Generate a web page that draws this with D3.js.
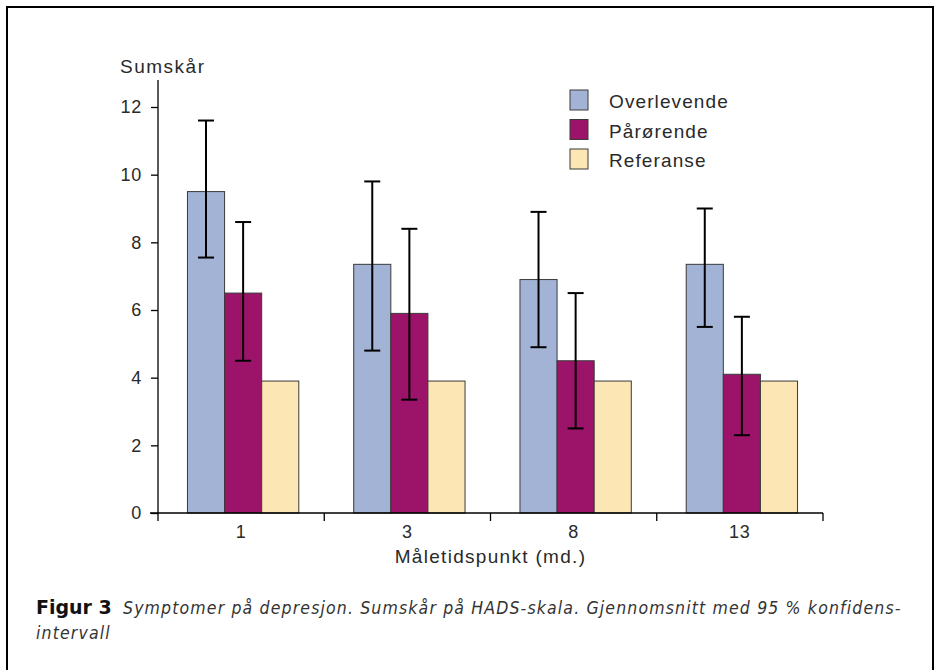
<!DOCTYPE html>
<html><head><meta charset="utf-8">
<script src="https://cdn.jsdelivr.net/npm/d3@7/dist/d3.min.js"></script>
<style>
body{margin:0;background:#fff;}
svg{display:block;}
</style></head>
<body>
<script>
const categories = ["1", "3", "8", "13"];
const seriesNames = ["Overlevende", "Pårørende", "Referanse"];
const overlevende = [9.5, 7.35, 6.9, 7.35];
const overlevendeLow = [7.55, 4.8, 4.9, 5.5];
const overlevendeHigh = [11.6, 9.8, 8.9, 9.0];
const parorende = [6.5, 5.9, 4.5, 4.1];
const parorendeLow = [4.5, 3.35, 2.5, 2.3];
const parorendeHigh = [8.6, 8.4, 6.5, 5.8];
const referanse = [3.9, 3.9, 3.9, 3.9];
const yTicks = [0, 2, 4, 6, 8, 10, 12];
const colors = ["#a3b3d5", "#9c1469", "#fbe6b4"];

const W = 939, H = 670;
const svg = d3.select("body").append("svg").attr("width", W).attr("height", H);
svg.append("rect").attr("x", 7).attr("y", 7).attr("width", 926).attr("height", 680)
  .attr("fill", "none").attr("stroke", "#000").attr("stroke-width", 2);

const x0 = 158, x1 = 823, yBase = 513;
const x = d3.scaleBand().domain(categories).range([x0, x1]).paddingInner(0).paddingOuter(0);
const xs = d3.scaleBand().domain(seriesNames).range([2, x.bandwidth() + 2]).paddingOuter(0.74).paddingInner(0);
const y = d3.scaleLinear().domain([0, 12]).range([yBase, 107]);

const font = "'Liberation Sans', Arial, sans-serif";
const textCol = "#2a2a2a";

const series = [
  {name: seriesNames[0], vals: overlevende, lo: overlevendeLow, hi: overlevendeHigh},
  {name: seriesNames[1], vals: parorende, lo: parorendeLow, hi: parorendeHigh},
  {name: seriesNames[2], vals: referanse, lo: null, hi: null}
];
series.forEach((s, si) => {
  const g = svg.append("g");
  categories.forEach((c, ci) => {
    const bx = x(c) + xs(s.name);
    g.append("rect").attr("x", bx).attr("y", y(s.vals[ci]))
      .attr("width", xs.bandwidth()).attr("height", y(0) - y(s.vals[ci]))
      .attr("fill", colors[si]).attr("stroke", "#3a3a3a").attr("stroke-width", 1);
  });
});
series.forEach((s) => {
  if (!s.lo) return;
  categories.forEach((c, ci) => {
    const cx = x(c) + xs(s.name) + xs.bandwidth() / 2;
    svg.append("line").attr("x1", cx).attr("x2", cx).attr("y1", y(s.lo[ci])).attr("y2", y(s.hi[ci]))
      .attr("stroke", "#000").attr("stroke-width", 2);
    [s.lo[ci], s.hi[ci]].forEach(v => {
      svg.append("line").attr("x1", cx - 8).attr("x2", cx + 8).attr("y1", y(v)).attr("y2", y(v))
        .attr("stroke", "#000").attr("stroke-width", 2);
    });
  });
});

// y axis
const yAxis = d3.axisLeft(y).tickValues(yTicks).tickSize(7).tickPadding(9).tickFormat(d3.format("d"));
const gy = svg.append("g").attr("transform", `translate(${x0},0)`).call(yAxis);
gy.select(".domain").remove();
gy.append("line").attr("x1", 0).attr("x2", 0).attr("y1", 80).attr("y2", yBase).attr("stroke", "#000").attr("stroke-width", 1.3);
gy.selectAll(".tick line").attr("stroke", "#000").attr("stroke-width", 1.3);
gy.selectAll(".tick text").attr("font-family", font).attr("font-size", 18).attr("letter-spacing", 0.8).attr("fill", textCol);

// x axis
const xAxis = d3.axisBottom(x).tickSize(0).tickPadding(12);
const gx = svg.append("g").attr("transform", `translate(0,${yBase})`).call(xAxis);
gx.select(".domain").remove();
gx.append("line").attr("x1", x0 - 8).attr("x2", x1).attr("y1", 0).attr("y2", 0).attr("stroke", "#000").attr("stroke-width", 1.3);
gx.selectAll(".tick text").attr("font-family", font).attr("font-size", 18).attr("letter-spacing", 0.8).attr("fill", textCol);
const bounds = categories.map(c => x(c)).concat([x1]);
gx.selectAll(".bnd").data(bounds).enter().append("line")
  .attr("x1", d => d).attr("x2", d => d).attr("y1", 0).attr("y2", 8)
  .attr("stroke", "#000").attr("stroke-width", 1.3);

// axis titles
svg.append("text").attr("x", 120).attr("y", 73).text("Sumskår")
  .attr("font-family", font).attr("font-size", 19).attr("letter-spacing", 1.5).attr("fill", textCol);
svg.append("text").attr("x", (x0 + x1) / 2).attr("y", 563).attr("text-anchor", "middle").text("Måletidspunkt (md.)")
  .attr("font-family", font).attr("font-size", 19).attr("letter-spacing", 1.3).attr("fill", textCol);

// legend
seriesNames.forEach((n, i) => {
  const ly = 90 + i * 29.5;
  svg.append("rect").attr("x", 570).attr("y", ly).attr("width", 18).attr("height", 20)
    .attr("fill", colors[i]).attr("stroke", "#3a3a3a").attr("stroke-width", 1);
  svg.append("text").attr("x", 609).attr("y", ly + 18).text(n)
    .attr("font-family", font).attr("font-size", 19).attr("letter-spacing", 1.1).attr("fill", textCol);
});

// caption
const capFont = "'DejaVu Sans Condensed','DejaVu Sans',sans-serif";
svg.append("text").attr("x", 36).attr("y", 614).text("Figur 3")
  .attr("font-family", "'DejaVu Sans',sans-serif").attr("font-weight", "bold").attr("font-size", 19).attr("fill", "#111");
svg.append("text").attr("x", 123).attr("y", 614).text("Symptomer på depresjon. Sumskår på HADS-skala. Gjennomsnitt med 95 % konfidens-")
  .attr("font-family", capFont).attr("font-style", "italic").attr("font-size", 17.5).attr("letter-spacing", 1.15).attr("fill", "#333");
svg.append("text").attr("x", 36).attr("y", 639).text("intervall")
  .attr("font-family", capFont).attr("font-style", "italic").attr("font-size", 17.5).attr("letter-spacing", 1.15).attr("fill", "#333");
</script>
</body></html>
